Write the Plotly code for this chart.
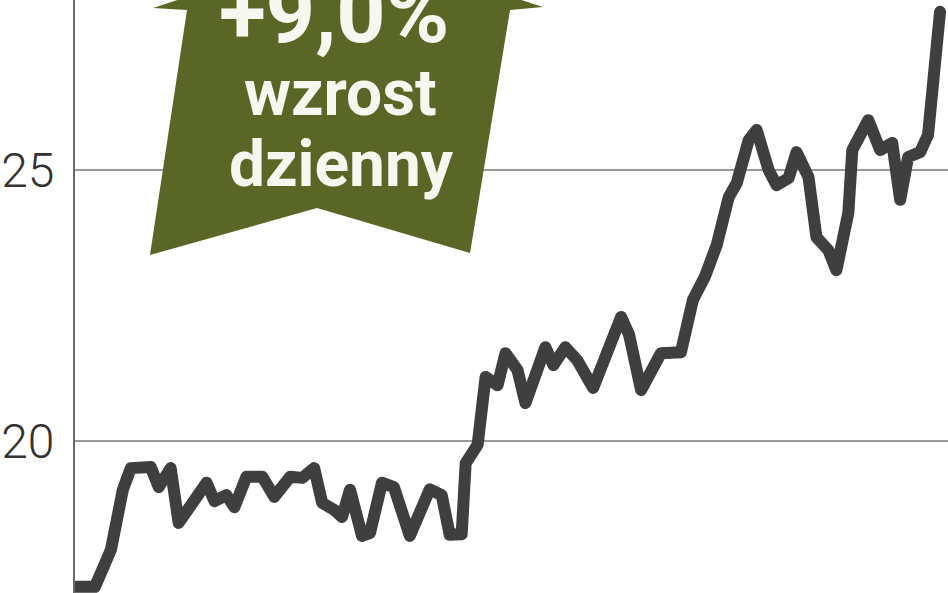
import plotly.graph_objects as go

# ---- data (trading-day index, share price) ----
day = [0, 5, 9, 12, 14, 19, 21, 24, 26, 30, 33, 35, 38, 40, 43, 47, 50, 54, 57, 60,
       62, 65, 67, 69, 72, 74, 77, 80, 84, 89, 92, 94, 97, 98, 101, 103, 106, 108, 111, 113,
       118, 120, 123, 126, 130, 137, 139, 142, 147, 152, 155, 158, 161, 164, 166, 169, 171, 174, 176, 179,
       181, 184, 186, 189, 191, 194, 195, 199, 202, 205, 207, 209, 212, 214, 215, 216, 217]
price = [17.31, 17.31, 17.99, 19.10, 19.50, 19.52, 19.15, 19.50, 18.49, 18.97, 19.23, 18.89, 19.00, 18.78, 19.34, 19.34, 18.97, 19.34, 19.32, 19.50,
         18.86, 18.73, 18.60, 19.10, 18.25, 18.30, 19.23, 19.15, 18.25, 19.11, 19.00, 18.27, 18.28, 19.59, 19.93, 21.18, 21.03, 21.62, 21.31, 20.70,
         21.73, 21.40, 21.73, 21.49, 20.98, 22.29, 21.96, 20.94, 21.62, 21.64, 22.60, 23.03, 23.62, 24.50, 24.76, 25.55, 25.74, 25.00, 24.72, 24.85,
         25.33, 24.87, 23.76, 23.52, 23.15, 24.21, 25.37, 25.92, 25.37, 25.50, 24.45, 25.24, 25.33, 25.65, 26.29, 27.21, 27.92]

tick_values = [20, 25]
tick_labels = ["20", "25"]
badge_lines = ["+9,0%", "wzrost", "dzienny"]

# ---- layout geometry ----
W, H = 948, 593
ML = 75
PW, PH = W - ML, H


def px(x, y):
    return (x - ML) / PW, (H - y) / PH


arrow_outline = [(348, -56), (543, 7), (510, 10), (470, 253), (317, 208),
                 (150, 255), (187, 10), (153, 8)]
path = ""
for i, (ax, ay) in enumerate(arrow_outline):
    X, Y = px(ax, ay)
    path += ("M" if i == 0 else "L") + f"{X:.4f},{Y:.4f} "
path += "Z"

fig = go.Figure()
fig.add_trace(go.Scatter(
    x=day, y=price, mode="lines",
    line=dict(color="#3f3f3f", width=12),
    hoverinfo="skip", showlegend=False,
))

fig.add_shape(type="path", path=path, xref="paper", yref="paper",
              fillcolor="#5a6626", line=dict(width=0), layer="above")

badge_pos = [(334, 13, 86), (340, 93, 64), (341, 164, 64)]
for txt, (bx, by, fs) in zip(badge_lines, badge_pos):
    X, Y = px(bx, by)
    fig.add_annotation(text=f"<b>{txt}</b>", x=X, y=Y, xref="paper", yref="paper",
                       xanchor="center", yanchor="middle", showarrow=False,
                       font=dict(family="Roboto", size=fs, color="#f7f7f0"))

fig.update_layout(
    width=W, height=H,
    margin=dict(l=ML, r=0, t=0, b=0, autoexpand=False),
    paper_bgcolor="white", plot_bgcolor="white",
    showlegend=False,
    xaxis=dict(range=[0, 219], visible=False, showgrid=False, zeroline=False),
    yaxis=dict(range=[17.196, 28.137], tickvals=tick_values, ticktext=tick_labels,
               showgrid=True, gridcolor="#9a9a9a", gridwidth=2,
               showline=True, linecolor="#6a6a6a", linewidth=2,
               zeroline=False, ticks="", ticklabelstandoff=9, automargin=False,
               tickfont=dict(family="Roboto", size=48, color="#333333", weight=300)),
)

post = """
document.body.style.margin='0';
document.body.style.overflow='hidden';
var s=document.createElement('style');
s.innerHTML='.js-line{stroke-linejoin:round !important;stroke-linecap:round !important;}';
document.head.appendChild(s);
"""
fig.write_html("out.html", post_script=post, config={"displayModeBar": False})
